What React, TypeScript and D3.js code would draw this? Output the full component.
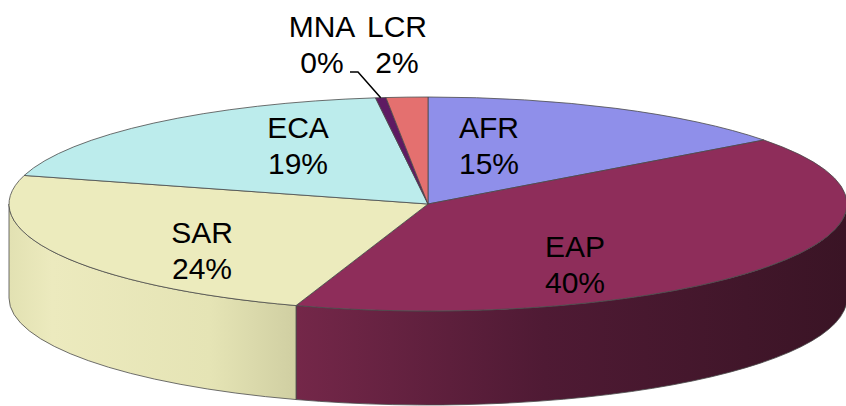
import React from 'react';
import * as d3 from 'd3';

// regions in clockwise order from 12 o'clock
const regions = ['AFR', 'EAP', 'SAR', 'ECA', 'MNA', 'LCR'];
const shares = [14.8, 40.3, 24.2, 18.7, 0.4, 1.6];
const topColors = ['#8f8fea', '#8e2d5a', '#ecebbd', '#bcecec', '#5e1a62', '#e4706f'];
const sideStops = [
  [['0', '#7878c8'], ['1', '#5a5aa0']],
  [['0', '#742749'], ['0.45', '#4f1a34'], ['1', '#3a1425']],
  [['0', '#e2e1b2'], ['0.15', '#eceabe'], ['0.7', '#e5e4b5'], ['1', '#d0cfa2']],
  [['0', '#a0d0d0'], ['1', '#8ab8b8']],
  [['0', '#4a1450'], ['1', '#3a1040']],
  [['0', '#c05a5a'], ['1', '#a04848']],
];

// label layout (centre x, first baseline)
const labelAt = [
  [489, 138], [575, 257], [202, 243], [298, 138], [322, 37], [397, 37],
];

const W = 846;
const H = 406;
const cx = 428;
const cy = 204;
const rx = 419;
const ry = 107;
const depth = 94;

function pt(t: number, dy = 0): [number, number] {
  return [cx + rx * Math.sin(t), cy - ry * Math.cos(t) + dy];
}

function topPath(a0: number, a1: number) {
  const p0 = pt(a0);
  const p1 = pt(a1);
  const large = a1 - a0 > Math.PI ? 1 : 0;
  return `M${cx},${cy}L${p0[0]},${p0[1]}A${rx},${ry} 0 ${large} 1 ${p1[0]},${p1[1]}Z`;
}

function sidePath(a0: number, a1: number) {
  const s = Math.max(a0, Math.PI / 2);
  const e = Math.min(a1, (3 * Math.PI) / 2);
  if (e <= s) return null;
  const p0 = pt(s);
  const p1 = pt(e);
  const q0 = pt(s, depth);
  const q1 = pt(e, depth);
  return `M${p0[0]},${p0[1]}A${rx},${ry} 0 0 1 ${p1[0]},${p1[1]}L${q1[0]},${q1[1]}A${rx},${ry} 0 0 0 ${q0[0]},${q0[1]}Z`;
}

export default function App() {
  const pie = d3.pie<number>().sort(null).startAngle(0).endAngle(2 * Math.PI);
  const arcs = pie(shares);
  const total = d3.sum(shares);
  const stroke = '#4a4a4a';

  const mna = arcs[4];
  const rim = pt((mna.startAngle + mna.endAngle) / 2);

  return (
    <svg width={W} height={H} style={{ position: 'absolute', left: 0, top: 0 }}
      fontFamily="'Liberation Sans', Arial, sans-serif">
      <defs>
        {sideStops.map((stops, i) => (
          <linearGradient key={i} id={`side${i}`} x1="0" x2="1" y1="0" y2="0">
            {stops.map(([o, c]) => <stop key={o} offset={o} stopColor={c} />)}
          </linearGradient>
        ))}
      </defs>
      {arcs.map((a, i) => {
        const d = sidePath(a.startAngle, a.endAngle);
        return d ? <path key={'s' + i} d={d} fill={`url(#side${i})`} stroke={stroke} strokeWidth={0.8} /> : null;
      })}
      {arcs.map((a, i) => (
        <path key={'t' + i} d={topPath(a.startAngle, a.endAngle)} fill={topColors[i]} stroke={stroke} strokeWidth={0.8} />
      ))}
      <polyline points={`${rim[0]},${rim[1]} 358,72 350,72`} fill="none" stroke="#000" strokeWidth={1.5} />
      {regions.map((r, i) => (
        <text key={'l' + i} x={labelAt[i][0]} y={labelAt[i][1]} textAnchor="middle" fontSize={30} fill="#000">
          <tspan x={labelAt[i][0]}>{r}</tspan>
          <tspan x={labelAt[i][0]} dy={36}>{Math.round((shares[i] / total) * 100)}%</tspan>
        </text>
      ))}
    </svg>
  );
}
